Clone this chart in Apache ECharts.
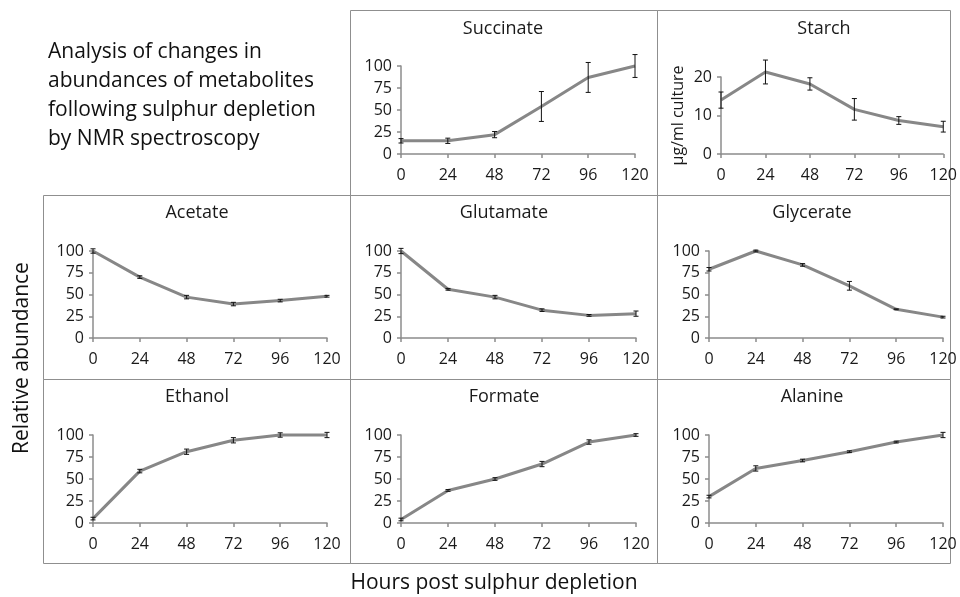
<!DOCTYPE html>
<html>
<head>
<meta charset="utf-8">
<script src="https://cdn.jsdelivr.net/npm/echarts@6/dist/echarts.min.js"></script>
<style>
  html, body { margin: 0; padding: 0; background: #fff; }
  #chart { width: 960px; height: 597px; }
</style>
</head>
<body>
<div id="chart"></div>
<script>
// hours after sulphur depletion (x axis ticks)
const hours = [0, 24, 48, 72, 96, 120];

// metabolite means and error bar half-widths
const succinate = [15, 15, 22, 54, 87, 100];
const succinateErr = [2.5, 3, 3.5, 17, 17, 13];
const starch = [14, 21.3, 18.2, 11.6, 8.7, 7.1];
const starchErr = [2.1, 3.1, 1.6, 2.8, 1, 1.4];
const acetate = [100, 70, 47, 39, 43, 48];
const acetateErr = [2.5, 1.5, 2, 2, 1.5, 1];
const glutamate = [100, 56, 47, 32, 26, 28];
const glutamateErr = [3, 1, 2, 1.5, 1, 3];
const glycerate = [79, 100, 84, 60, 33, 24];
const glycerateErr = [2, 1, 1.5, 5, 0.5, 1];
const ethanol = [5, 59, 81, 94, 100, 100];
const ethanolErr = [1.5, 2, 3, 3, 2.5, 3];
const formate = [4, 37, 50, 67, 92, 100];
const formateErr = [1.5, 1, 1.5, 3, 2.5, 1.5];
const alanine = [30, 62, 71, 81, 92, 100];
const alanineErr = [1.5, 3, 1.5, 1, 1, 3];

const FONT = 'Open Sans';
const AXIS_GREY = '#8c8c8c';

// panel layout: box, plot area, title position
const panels = [
  { name: 'Succinate', vals: succinate, errs: succinateErr, box: [350, 10, 307, 185], grid: [401, 66, 234, 88], tx: 503, ty: 20, max: 100, step: 25 },
  { name: 'Starch', vals: starch, errs: starchErr, box: [657, 10, 293, 185], grid: [721, 77, 224, 77], tx: 824, ty: 20, max: 20, step: 10, yName: 'µg/ml culture' },
  { name: 'Acetate', vals: acetate, errs: acetateErr, box: [43, 195, 307, 184], grid: [93, 251, 234, 87], tx: 197, ty: 204, max: 100, step: 25 },
  { name: 'Glutamate', vals: glutamate, errs: glutamateErr, box: [350, 195, 307, 184], grid: [401, 251, 235, 87], tx: 504, ty: 204, max: 100, step: 25 },
  { name: 'Glycerate', vals: glycerate, errs: glycerateErr, box: [657, 195, 293, 184], grid: [709, 251, 234, 87], tx: 812, ty: 204, max: 100, step: 25 },
  { name: 'Ethanol', vals: ethanol, errs: ethanolErr, box: [43, 379, 307, 184], grid: [93, 435, 234, 88], tx: 197, ty: 388, max: 100, step: 25 },
  { name: 'Formate', vals: formate, errs: formateErr, box: [350, 379, 307, 184], grid: [401, 435, 235, 88], tx: 504, ty: 388, max: 100, step: 25 },
  { name: 'Alanine', vals: alanine, errs: alanineErr, box: [657, 379, 293, 184], grid: [709, 435, 234, 88], tx: 812, ty: 388, max: 100, step: 25 }
];

const chart = echarts.init(document.getElementById('chart'));

const grids = [], xAxes = [], yAxes = [], series = [], titles = [], boxes = [];

panels.forEach((p, i) => {
  grids.push({ left: p.grid[0], top: p.grid[1], width: p.grid[2], height: p.grid[3] });
  titles.push({
    text: p.name, left: p.tx, top: p.ty, textAlign: 'center', padding: 0,
    textStyle: { fontFamily: FONT, fontSize: 18, fontWeight: 'normal', color: '#1a1a1a' }
  });
  xAxes.push({
    type: 'value', gridIndex: i, min: 0, max: 120, interval: 24,
    axisLine: { lineStyle: { color: AXIS_GREY, width: 1.5 } },
    axisTick: { show: true, length: 4, lineStyle: { color: AXIS_GREY, width: 1.5 } },
    axisLabel: { fontFamily: FONT, fontSize: 16, color: '#1a1a1a', margin: 13 },
    splitLine: { show: false }
  });
  yAxes.push({
    type: 'value', gridIndex: i, min: 0, max: p.max, interval: p.step,
    name: p.yName || '', nameLocation: 'middle', nameRotate: 90, nameGap: 35,
    nameTextStyle: { fontFamily: FONT, fontSize: 16, color: '#1a1a1a' },
    axisLine: { show: true, lineStyle: { color: AXIS_GREY, width: 1.5 } },
    axisTick: { show: true, length: 4, lineStyle: { color: AXIS_GREY, width: 1.5 } },
    axisLabel: { fontFamily: FONT, fontSize: 16, color: '#1a1a1a', margin: 9 },
    splitLine: { show: false }
  });
  series.push({
    type: 'line', xAxisIndex: i, yAxisIndex: i, clip: false,
    data: hours.map((h, k) => [h, p.vals[k]]),
    showSymbol: false, symbol: 'none',
    lineStyle: { color: '#878787', width: 3 },
    z: 2
  });
  series.push({
    type: 'custom', xAxisIndex: i, yAxisIndex: i, clip: false,
    data: hours.map((h, k) => [h, p.vals[k] - p.errs[k], p.vals[k] + p.errs[k]]),
    encode: { x: 0, y: [1, 2] },
    renderItem: (params, api) => {
      const lo = api.coord([api.value(0), api.value(1)]);
      const hi = api.coord([api.value(0), api.value(2)]);
      const cap = 2.5;
      const st = { stroke: '#111', lineWidth: 1 };
      return {
        type: 'group',
        children: [
          { type: 'line', shape: { x1: lo[0], y1: lo[1], x2: hi[0], y2: hi[1] }, style: st },
          { type: 'line', shape: { x1: lo[0] - cap, y1: lo[1], x2: lo[0] + cap, y2: lo[1] }, style: st },
          { type: 'line', shape: { x1: hi[0] - cap, y1: hi[1], x2: hi[0] + cap, y2: hi[1] }, style: st }
        ]
      };
    },
    z: 3
  });
  boxes.push({
    type: 'rect', shape: { x: p.box[0] + 0.5, y: p.box[1] + 0.5, width: p.box[2], height: p.box[3] },
    style: { fill: 'none', stroke: '#8f8f8f', lineWidth: 1 }, silent: true
  });
});

// description block at top left
titles.push({
  text: 'Analysis of changes in\nabundances of metabolites\nfollowing sulphur depletion\nby NMR spectroscopy',
  left: 48, top: 38, padding: 0,
  textStyle: { fontFamily: FONT, fontSize: 21, lineHeight: 29, fontWeight: 'normal', color: '#111' }
});

chart.setOption({
  animation: false,
  backgroundColor: '#fff',
  title: titles,
  grid: grids,
  xAxis: xAxes,
  yAxis: yAxes,
  series: series,
  graphic: boxes.concat([
    {
      type: 'text', x: 22, y: 358, rotation: Math.PI / 2,
      style: { text: 'Relative abundance', fontFamily: FONT, fontSize: 21, fill: '#111', align: 'center', verticalAlign: 'middle' }
    },
    {
      type: 'text', x: 494, y: 583,
      style: { text: 'Hours post sulphur depletion', fontFamily: FONT, fontSize: 21, fill: '#111', align: 'center', verticalAlign: 'middle' }
    }
  ])
});
</script>
</body>
</html>
